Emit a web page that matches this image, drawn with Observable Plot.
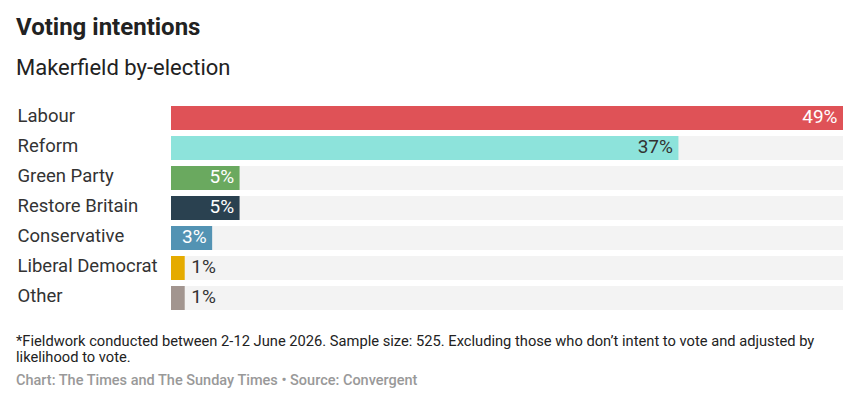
<!DOCTYPE html>
<html>
<head>
<meta charset="utf-8">
<script src="https://cdn.jsdelivr.net/npm/d3@7"></script>
<script src="https://cdn.jsdelivr.net/npm/@observablehq/plot@0.6"></script>
<style>
  html, body { margin: 0; padding: 0; background: #fff; }
  body { font-family: Roboto, "Noto Sans", sans-serif; color: #222; width: 857px; }
  .title { position: absolute; left: 16px; top: 13px; font-size: 24px; line-height: 28px; font-weight: 700; color: #222; white-space: nowrap; }
  .subtitle { position: absolute; left: 16px; top: 55px; font-size: 22px; line-height: 26px; color: #222; white-space: nowrap; }
  #chart { position: absolute; left: 0; top: 100px; }
  .note { position: absolute; left: 16px; top: 334px; width: 820px; font-size: 14.7px; line-height: 15.5px; color: #222; }
  .source { position: absolute; left: 16px; top: 373px; font-size: 14.5px; line-height: 15px; color: #999; font-weight: 500; white-space: nowrap; }
</style>
</head>
<body>
<div class="title">Voting intentions</div>
<div class="subtitle">Makerfield by-election</div>
<div id="chart"></div>
<div class="note">*Fieldwork conducted between 2-12 June 2026. Sample size: 525. Excluding those who don’t intent to vote and adjusted by likelihood to vote.</div>
<div class="source">Chart: The Times and The Sunday Times • Source: Convergent</div>
<script>
const parties = ["Labour", "Reform", "Green Party", "Restore Britain", "Conservative", "Liberal Democrat", "Other"];
const shares = [49, 37, 5, 5, 3, 1, 1];
const colors = ["#df5257", "#8de3db", "#6aa95f", "#2a4150", "#5393b3", "#e5ab00", "#a2958f"];
const labelColors = ["#ffffff", "#333333", "#ffffff", "#ffffff", "#ffffff", "#333333", "#333333"];
const labelInside = [true, true, true, true, true, false, false];
const maxShare = 49;

const data = parties.map((p, i) => ({party: p, share: shares[i], color: colors[i], labelColor: labelColors[i], inside: labelInside[i]}));

const plot = Plot.plot({
  width: 857,
  height: 213,
  marginTop: 3,
  marginBottom: 0,
  marginLeft: 171,
  marginRight: 14,
  x: {domain: [0, maxShare], axis: null},
  y: {domain: parties, axis: null, paddingInner: 0.2, paddingOuter: 0.1},
  style: {fontFamily: "Roboto, 'Noto Sans', sans-serif", background: "transparent"},
  marks: [
    Plot.barX(data, {y: "party", x: () => maxShare, fill: "#f3f3f3"}),
    Plot.barX(data, {y: "party", x: "share", fill: d => d.color}),
    Plot.text(data, {y: "party", text: "party", frameAnchor: "left", dx: -154, dy: -2, textAnchor: "start", fontSize: 18.5, fill: "#333"}),
    Plot.text(data.filter(d => d.inside), {y: "party", x: "share", text: d => d.share + "%", textAnchor: "end", dx: -6, dy: -2, fontSize: 19, fill: d => d.labelColor, fontWeight: d => d.labelColor === "#ffffff" ? 500 : 400}),
    Plot.text(data.filter(d => !d.inside), {y: "party", x: "share", text: d => d.share + "%", textAnchor: "start", dx: 6, dy: -2, fontSize: 19, fill: d => d.labelColor})
  ]
});
document.getElementById("chart").appendChild(plot);
</script>
</body>
</html>
